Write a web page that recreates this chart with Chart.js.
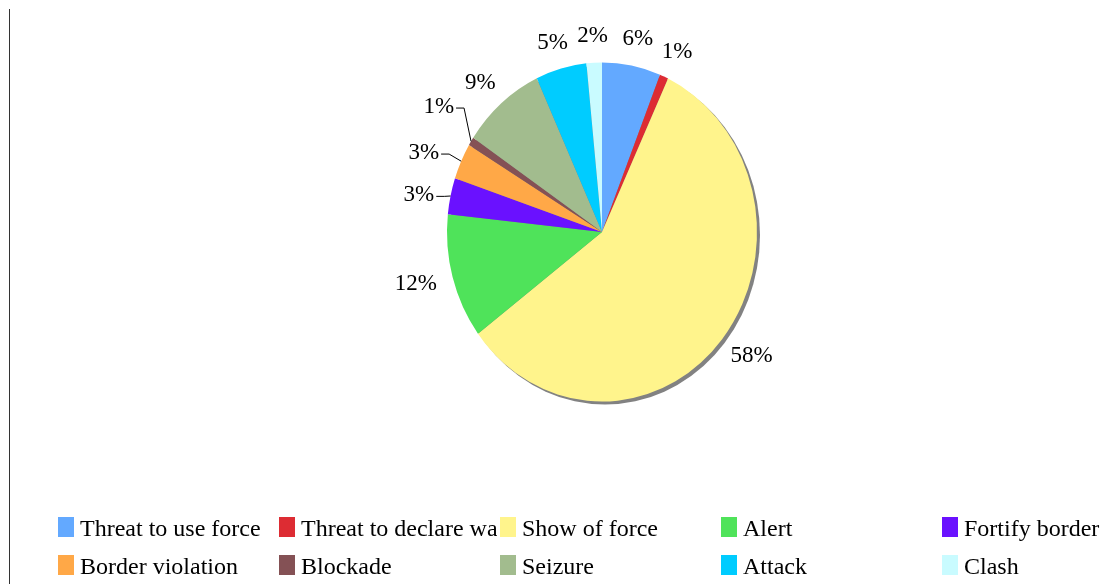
<!DOCTYPE html>
<html>
<head>
<meta charset="utf-8">
<script src="https://cdn.jsdelivr.net/npm/chart.js@4.4.1/dist/chart.umd.min.js"></script>
<style>
    html, body { margin: 0; padding: 0; background: #fff; }
    #wrap { position: relative; width: 1102px; height: 584px; overflow: hidden; font-family: "Liberation Serif", "Times New Roman", serif; }
    #linea { position: absolute; left: 9px; top: 9px; width: 1px; height: 575px; background: #333; }
    #grafica { position: absolute; left: 0; top: 0; }
    .item { position: absolute; height: 28px; overflow: hidden; }
    .caja { position: absolute; left: 0; top: 0; width: 16px; height: 20px; }
    .texto { position: absolute; left: 22px; top: -2px; white-space: nowrap; font-size: 24px; color: #000; }
</style>
</head>
<body>
<div id="wrap">
    <div id="linea"></div>
    <canvas id="grafica" width="1102" height="584"></canvas>
    <div id="leyenda"></div>
</div>
<script>
const categorias = ["Threat to use force", "Threat to declare war", "Show of force", "Alert", "Fortify border",
    "Border violation", "Blockade", "Seizure", "Attack", "Clash"];
const valores = [6.1, 0.9, 57.7, 11.9, 3.45, 3.45, 0.8, 8.7, 5.3, 1.6];
const colores = ["#63a9ff", "#dd2c33", "#fff48c", "#4fe35a", "#6a11ff",
    "#ffa847", "#845155", "#a2bc8e", "#00ccff", "#c9fbff"];

// etiquetas con linea guia (se desplazan un poco)
const guias = {
    "Fortify border": [0, 5],
    "Border violation": [-8, 3],
    "Blockade": [-5, -20]
};

const FUENTE = '"Liberation Serif", "Times New Roman", serif';

// el pastel original esta un poco estirado en vertical, con sombra gris
const elipse = {
    id: 'elipse',
    beforeDatasetsDraw(chart, args, opts) {
        const arc = chart.getDatasetMeta(0).data[0];
        const ctx = chart.ctx;
        ctx.save();
        ctx.translate(arc.x, arc.y);
        ctx.scale(1, opts.sy);
        ctx.translate(-arc.x, -arc.y);
        ctx.save();
        ctx.translate(opts.sombra, opts.sombra / opts.sy);
        ctx.beginPath();
        ctx.arc(arc.x, arc.y, arc.outerRadius, 0, Math.PI * 2);
        ctx.fillStyle = '#828282';
        ctx.filter = 'blur(0.6px)';
        ctx.fill();
        ctx.restore();
    },
    afterDatasetsDraw(chart) {
        chart.ctx.restore();
    }
};

const etiquetas = {
    id: 'etiquetas',
    afterDraw(chart, args, opts) {
        const ctx = chart.ctx;
        const meta = chart.getDatasetMeta(0);
        const total = valores.reduce((a, b) => a + b, 0);
        ctx.save();
        ctx.font = '23px ' + FUENTE;
        ctx.fillStyle = '#000';
        ctx.strokeStyle = '#000';
        ctx.lineWidth = 1;
        ctx.textAlign = 'center';
        ctx.textBaseline = 'middle';
        meta.data.forEach((arc, i) => {
            const a = (arc.startAngle + arc.endAngle) / 2;
            const cx = Math.cos(a), cy = Math.sin(a);
            const texto = Math.round(valores[i] / total * 100) + '%';
            const w = ctx.measureText(texto).width;
            const r = arc.outerRadius + opts.gap;
            let x = arc.x + cx * r + cx * w / 2;
            let y = arc.y + cy * r * opts.sy + cy * 8;
            const g = guias[categorias[i]];
            if (g) {
                x += g[0];
                y += g[1];
                const bx = arc.x + cx * arc.outerRadius;
                const by = arc.y + cy * arc.outerRadius * opts.sy;
                ctx.beginPath();
                ctx.moveTo(x + w / 2 + 2, y + 1);
                ctx.lineTo(x + w / 2 + 10, y + 1);
                ctx.lineTo(bx, by);
                ctx.stroke();
            }
            ctx.fillText(texto, x, y);
        });
        ctx.restore();
    }
};

const $grafica = document.querySelector("#grafica");

new Chart($grafica, {
    type: 'pie',
    data: {
        labels: categorias,
        datasets: [{
            data: valores,
            backgroundColor: colores,
            borderWidth: 0,
            clip: false
        }]
    },
    options: {
        responsive: false,
        animation: false,
        devicePixelRatio: 1,
        layout: { padding: { left: 447, right: 345, top: 77, bottom: 197 } },
        plugins: {
            legend: { display: false },
            tooltip: { enabled: false },
            elipse: { sy: 1.094, sombra: 3 },
            etiquetas: { gap: 17, sy: 1.094 }
        }
    },
    plugins: [elipse, etiquetas]
});

// leyenda en columnas fijas, como el original (el texto largo se corta)
const columnas = [58, 279, 500, 721, 942, 1140];
const filas = [517, 555];
const $leyenda = document.querySelector("#leyenda");
categorias.forEach((nombre, i) => {
    const col = i % 5, fila = Math.floor(i / 5);
    const item = document.createElement('div');
    item.className = 'item';
    item.style.left = columnas[col] + 'px';
    item.style.top = filas[fila] + 'px';
    item.style.width = (columnas[col + 1] - columnas[col] - 3) + 'px';
    item.innerHTML = '<span class="caja" style="background:' + colores[i] + '"></span><span class="texto"></span>';
    item.querySelector('.texto').textContent = nombre;
    $leyenda.appendChild(item);
});
</script>
</body>
</html>
